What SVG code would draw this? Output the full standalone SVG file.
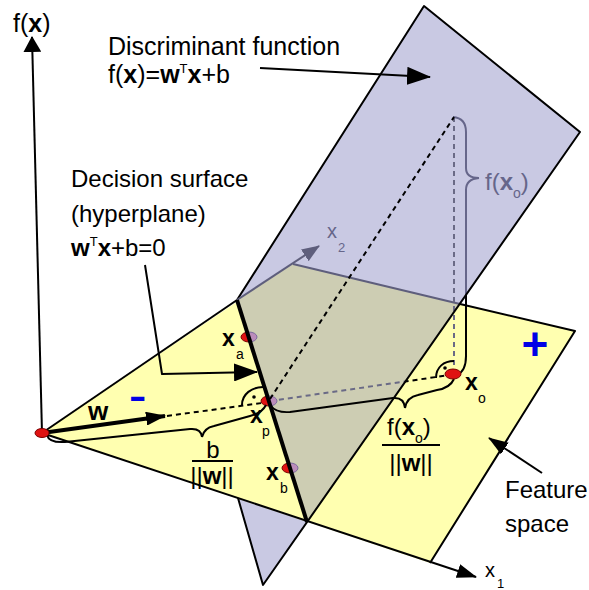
<svg xmlns="http://www.w3.org/2000/svg" width="589" height="590" viewBox="0 0 589 590">
<style>
text{font-family:"Liberation Sans",Arial,sans-serif;fill:#000;font-size:24px}
.b{font-weight:bold}
.sub{font-size:14px}
.g{fill:#66668a}
.blue{fill:#0000e6}
.edge{fill:none;stroke:#000;stroke-width:2;stroke-linejoin:round}
.gedge{fill:none;stroke:#5e5e7c;stroke-width:2}
.dk{fill:none;stroke:#000;stroke-width:2;stroke-dasharray:5,4}
.dg{fill:none;stroke:#6a6a86;stroke-width:2;stroke-dasharray:5,4}
.br{fill:none;stroke:#000;stroke-width:2}
.brg{fill:none;stroke:#66668a;stroke-width:2}
.pt{fill:#e01212;stroke:#7a0000;stroke-width:1}
.ptb{fill:#bb8cbb;stroke:#7a6a9e;stroke-width:1}
.lav{fill:#c9c9e3}
.yel{fill:#ffffb0}
.gry{fill:#cdcdb3}
</style>
<defs>
<marker id="ah" viewBox="0 0 20 14" refX="19" refY="7" markerWidth="20" markerHeight="14" markerUnits="userSpaceOnUse" orient="auto"><path d="M0,0L20,7L0,14z" fill="#000"/></marker>
<marker id="ahBig" viewBox="0 0 24 18" refX="23" refY="9" markerWidth="24" markerHeight="18" markerUnits="userSpaceOnUse" orient="auto"><path d="M0,0L24,9L0,18z" fill="#000"/></marker>
<marker id="ahAxis" viewBox="0 0 16 18" refX="15" refY="9" markerWidth="16" markerHeight="18" markerUnits="userSpaceOnUse" orient="auto"><path d="M0,0L16,9L0,18z" fill="#000"/></marker>
<marker id="ahG" viewBox="0 0 18 14" refX="17" refY="7" markerWidth="18" markerHeight="14" markerUnits="userSpaceOnUse" orient="auto"><path d="M0,0L18,7L0,14z" fill="#5e5e7c"/></marker>
<clipPath id="behind"><polygon points="424,6 580,132 307,522 237,300"/></clipPath>
<clipPath id="front"><path clip-rule="evenodd" d="M0,0H589V590H0Z M424,6L580,132L307,522L237,300Z"/></clipPath>
</defs>

<g id="planes">
<polygon id="discriminant-lower" class="lav" points="237,300 307,522 263,585 198,362"/>
<polygon id="feature-plane" class="yel" points="42,433 293,264 575,331 430,563"/>
<polygon id="discriminant-upper" class="lav" points="424,6 580,132 307,522 237,300"/>
<polygon id="overlap" class="gry" points="237,300 293,264 460,304 307,522"/>
</g>

<g id="behind-items" clip-path="url(#behind)">
<path class="gedge" d="M293,264L460,304"/>
<path class="dg" d="M270,401L450,375"/>
<path class="dg" d="M454,117L454,368"/>
<path class="brg" d="M453,117Q466,118 466,132L466,168Q466,178 479,178Q466,179 466,190L466,356Q466,371 457,375"/>
<ellipse class="ptb" cx="249" cy="337" rx="8" ry="5"/>
<ellipse class="ptb" cx="269" cy="401" rx="8" ry="5"/>
<ellipse class="ptb" cx="290" cy="468" rx="8" ry="5"/>
</g>
<g id="front-items" clip-path="url(#front)">
<path class="dk" d="M270,401L450,375"/>
<path class="dg" d="M454,117L454,368"/>
<path class="br" d="M453,117Q466,118 466,132L466,168Q466,178 479,178Q466,179 466,190L466,356Q466,371 457,375"/>
<ellipse class="pt" cx="249" cy="337" rx="8" ry="5"/>
<ellipse class="pt" cx="269" cy="401" rx="8" ry="5"/>
<ellipse class="pt" cx="290" cy="468" rx="8" ry="5"/>
</g>

<g id="connectors">
<path class="edge" d="M42,433L237,300"/>
<path class="edge" d="M460,304L575,331L430,563"/>
<path class="edge" d="M237,300L424,6L580,132L263,585L238,498"/>
<path class="gedge" d="M237,300L319,246" marker-end="url(#ahG)"/>
<path class="edge" d="M42,433L476,577" marker-end="url(#ah)"/>
<path class="edge" d="M42,433L32,37" marker-end="url(#ahAxis)"/>
<path class="edge" d="M260,68L430,77" marker-end="url(#ahBig)"/>
<path class="edge" d="M145,265L162,374L257,372" marker-end="url(#ahBig)"/>
<path class="edge" d="M542,473L489,438" marker-end="url(#ah)"/>
<path fill="none" stroke="#000" stroke-width="4" d="M42,433L165,416" marker-end="url(#ah)"/>
<path class="dk" d="M167,416L262,403"/>
<path class="dk" d="M270,399L454,117"/>
<path fill="none" stroke="#000" stroke-width="4" d="M237,300L307,522"/>
<path class="br" d="M47,435Q49,443 65,442L190,429Q201,428 202,437Q204,428 214,426L250,416Q262,413 266,405"/>
<path class="br" d="M271,406Q276,413 290,412L393,398Q404,397 405,408Q407,397 418,395L437,390Q450,388 454,379"/>
<path class="br" d="M242,405C242,394 252,387 263,387"/>
<path class="br" d="M436,378C436,367 444,361 454,361"/>
<circle cx="254" cy="397" r="1.8"/>
<circle cx="445" cy="368" r="1.8"/>
<path class="br" d="M192,461H233"/>
<path class="br" d="M382,445H440"/>
</g>

<g id="points">
<ellipse id="origin" class="pt" cx="42" cy="433" rx="7" ry="4.5"/>
<ellipse id="xo" class="pt" cx="453" cy="374" rx="8" ry="5"/>
</g>

<g id="labels">
<text x="13" y="32" style="font-size:25px">f(<tspan class="b">x</tspan>)</text>
<text x="108" y="55" style="font-size:25px">Discriminant function</text>
<text x="108" y="83" style="font-size:25px">f(<tspan class="b">x</tspan>)=<tspan class="b">w</tspan><tspan dy="-10" style="font-size:13px">T</tspan><tspan dy="10" class="b">x</tspan>+b</text>
<text x="71" y="187">Decision surface</text>
<text x="71" y="222">(hyperplane)</text>
<text x="71" y="256"><tspan class="b">w</tspan><tspan dy="-10" style="font-size:13px">T</tspan><tspan dy="10" class="b">x</tspan>+b=0</text>
<text x="88" y="420" class="b" style="font-size:26px">w</text>
<text class="blue b" transform="translate(129,408) scale(1.45,1)" style="font-size:36px">-</text>
<text class="blue b" x="535" y="360" text-anchor="middle" style="font-size:46px">+</text>
<text x="222" y="346" class="b" style="font-size:23px">x</text><text x="236" y="359" class="sub">a</text>
<text x="250" y="423" class="b" style="font-size:23px">x</text><text x="262" y="436" class="sub">p</text>
<text x="266" y="480" class="b" style="font-size:23px">x</text><text x="280" y="493" class="sub">b</text>
<text x="465" y="390" class="b" style="font-size:23px">x</text><text x="478" y="403" class="sub">o</text>
<text x="213" y="458" text-anchor="middle">b</text>
<text x="212" y="484" text-anchor="middle">||<tspan class="b">w</tspan>||</text>
<text x="387" y="435">f(<tspan class="b">x</tspan><tspan class="sub" dy="8">o</tspan><tspan dy="-8">)</tspan></text>
<text x="411" y="471" text-anchor="middle">||<tspan class="b">w</tspan>||</text>
<text x="485" y="190" class="g">f(<tspan class="b">x</tspan><tspan class="sub" dy="8">o</tspan><tspan dy="-8">)</tspan></text>
<text x="485" y="577" style="font-size:20px">x</text><text x="497" y="588" style="font-size:13px">1</text>
<text x="327" y="238" class="g" style="font-size:20px">x</text><text x="338" y="252" class="g" style="font-size:13px">2</text>
<text x="505" y="498">Feature</text>
<text x="505" y="532">space</text>
</g>
</svg>
